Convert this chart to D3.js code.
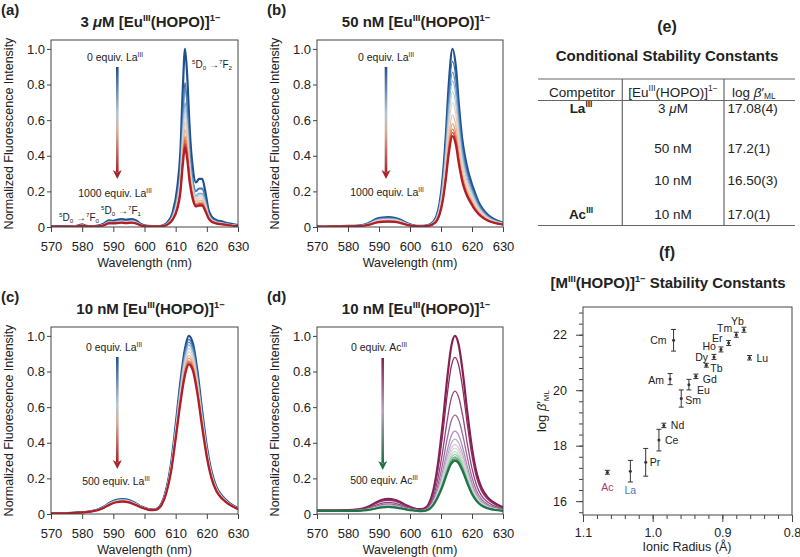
<!DOCTYPE html>
<html>
<head>
<meta charset="utf-8">
<script src="https://cdn.jsdelivr.net/npm/d3@7"></script>
<style>
body { margin: 0; background: #fff; }
text { font-family: "Liberation Sans", Arial, Helvetica, sans-serif; fill: #222; }
</style>
</head>
<body>
<script>
// ---- data ----
var wavelengthTicks = [570, 580, 590, 600, 610, 620, 630];
var intensityTicks = [0, 0.2, 0.4, 0.6, 0.8, 1.0];

// (a) 3 uM, La titration: first (0 equiv) and last (1000 equiv) spectra, peak height of each trace
var wlA = [570, 574, 577, 579, 580, 581, 583, 585, 587, 588.5, 590, 592.5, 594, 596, 597.5, 599, 601, 604, 606, 607.5, 609, 610.5, 611.5, 612.3, 613, 613.7, 614.5, 615.5, 616.5, 617.5, 618.5, 619.5, 620.5, 621.5, 623, 625, 627, 630];
var firstA = [0.003, 0.003, 0.004, 0.010, 0.015, 0.008, 0.005, 0.008, 0.02, 0.038, 0.035, 0.045, 0.040, 0.045, 0.035, 0.015, 0.006, 0.005, 0.01, 0.03, 0.08, 0.22, 0.42, 0.78, 1.0, 0.85, 0.55, 0.33, 0.25, 0.27, 0.27, 0.20, 0.10, 0.06, 0.04, 0.03, 0.02, 0.01];
var lastA = [0.002, 0.002, 0.002, 0.005, 0.008, 0.004, 0.003, 0.004, 0.01, 0.02, 0.02, 0.024, 0.022, 0.024, 0.018, 0.008, 0.003, 0.003, 0.005, 0.015, 0.04, 0.10, 0.19, 0.35, 0.45, 0.38, 0.25, 0.155, 0.115, 0.12, 0.12, 0.09, 0.05, 0.03, 0.02, 0.015, 0.01, 0.005];
var peaksA = [1.0, 0.81, 0.79, 0.70, 0.67, 0.63, 0.59, 0.55, 0.51, 0.49, 0.47, 0.45];

// (b) 50 nM, La titration
var wlB = [570, 575, 580, 583, 585, 587, 589, 591, 593, 595, 597, 599, 601, 603, 605, 606.5, 607.5, 608.5, 609.5, 610.5, 611.5, 612.5, 613.7, 614.8, 615.8, 616.8, 617.8, 618.8, 619.8, 620.8, 622, 623.5, 625, 627, 630];
var firstB = [0.003, 0.004, 0.006, 0.008, 0.012, 0.025, 0.045, 0.053, 0.055, 0.052, 0.04, 0.022, 0.01, 0.006, 0.008, 0.015, 0.03, 0.06, 0.13, 0.27, 0.50, 0.80, 1.0, 0.90, 0.68, 0.50, 0.39, 0.31, 0.25, 0.20, 0.145, 0.10, 0.07, 0.045, 0.025];
var lastB = [0.002, 0.003, 0.004, 0.005, 0.007, 0.013, 0.024, 0.029, 0.03, 0.029, 0.022, 0.012, 0.006, 0.004, 0.005, 0.009, 0.017, 0.032, 0.068, 0.14, 0.26, 0.41, 0.51, 0.46, 0.35, 0.26, 0.20, 0.16, 0.13, 0.10, 0.075, 0.052, 0.036, 0.024, 0.014];
var peaksB = [1.0, 0.93, 0.87, 0.82, 0.76, 0.70, 0.63, 0.58, 0.55, 0.53, 0.51];

// (c) 10 nM, La titration
var wlC = [570, 575, 580, 583, 585, 587, 589, 591, 593, 595, 597, 599, 601, 602.8, 604, 605.5, 607, 608.5, 610, 611.5, 613, 614.2, 615.5, 617, 618.5, 620, 621.5, 623, 625, 627, 630];
var firstC = [0.003, 0.005, 0.01, 0.016, 0.025, 0.042, 0.065, 0.08, 0.084, 0.078, 0.062, 0.042, 0.029, 0.025, 0.03, 0.06, 0.14, 0.28, 0.50, 0.74, 0.93, 1.0, 0.96, 0.80, 0.58, 0.38, 0.24, 0.155, 0.10, 0.065, 0.032];
var lastC = [0.003, 0.004, 0.009, 0.014, 0.021, 0.035, 0.054, 0.066, 0.07, 0.065, 0.052, 0.036, 0.025, 0.022, 0.026, 0.051, 0.118, 0.235, 0.42, 0.62, 0.78, 0.84, 0.806, 0.672, 0.487, 0.319, 0.2, 0.13, 0.084, 0.055, 0.027];
var peaksC = [1.0, 0.98, 0.965, 0.95, 0.93, 0.91, 0.89, 0.875, 0.86, 0.85, 0.84];

// (d) 10 nM, Ac titration
var wlD = [570, 575, 580, 583, 585, 587, 589, 591, 593, 595, 597, 599, 601, 603, 604.5, 606, 607.5, 609, 610.5, 612, 613.3, 614.5, 615.7, 617, 618.5, 620, 621.5, 623, 625, 627, 630];
var firstD = [0.02, 0.02, 0.022, 0.026, 0.032, 0.045, 0.065, 0.08, 0.085, 0.08, 0.066, 0.048, 0.034, 0.027, 0.03, 0.055, 0.13, 0.28, 0.50, 0.76, 0.94, 1.0, 0.95, 0.80, 0.57, 0.37, 0.23, 0.15, 0.095, 0.065, 0.038];
var lastD = [0.017, 0.017, 0.017, 0.018, 0.02, 0.024, 0.031, 0.037, 0.04, 0.037, 0.032, 0.025, 0.02, 0.016, 0.017, 0.025, 0.05, 0.095, 0.155, 0.23, 0.283, 0.30, 0.285, 0.24, 0.172, 0.112, 0.072, 0.048, 0.032, 0.024, 0.018];
var peaksD = [1.0, 0.88, 0.69, 0.555, 0.465, 0.42, 0.39, 0.37, 0.35, 0.335, 0.32, 0.31, 0.30];

// (e) table
var competitors = ["La", "", "", "Ac"];
var concentrations = ["3 ", "50 nM", "10 nM", "10 nM"];
var logBetaCond = ["17.08(4)", "17.2(1)", "16.50(3)", "17.0(1)"];

// (f) stability constants vs ionic radius
var elements = ["Ac", "La", "Pr", "Ce", "Nd", "Sm", "Eu", "Gd", "Tb", "Dy", "Ho", "Er", "Tm", "Yb", "Lu", "Am", "Cm"];
var ionicRadius = [1.065, 1.032, 1.01, 0.991, 0.984, 0.959, 0.948, 0.938, 0.923, 0.912, 0.902, 0.891, 0.88, 0.869, 0.861, 0.975, 0.97];
var logBeta = [17.04, 17.08, 17.4, 18.2, 18.73, 19.7, 20.2, 20.5, 20.9, 21.2, 21.47, 21.7, 22.0, 22.18, 21.17, 20.4, 21.8];
var logBetaErr = [0.07, 0.39, 0.5, 0.39, 0.08, 0.31, 0.19, 0.08, 0.07, 0.09, 0.09, 0.09, 0.09, 0.09, 0.08, 0.2, 0.39];
var radiusTicks = [1.1, 1.0, 0.9, 0.8];
var radiusMinor = [1.1, 1.08, 1.06, 1.04, 1.02, 1.0, 0.98, 0.96, 0.94, 0.92, 0.9, 0.88, 0.86, 0.84, 0.82, 0.8];
var betaTicks = [16, 18, 20, 22];
var betaMinor = [15.6, 16, 16.4, 16.8, 17.2, 17.6, 18, 18.4, 18.8, 19.2, 19.6, 20, 20.4, 20.8, 21.2, 21.6, 22, 22.4, 22.8];

// ---- drawing ----
var svg = d3.select("body").append("svg")
    .attr("width", 800)
    .attr("height", 557);
var defs = svg.append("defs");

// text with super/subscripts: parts = [[string, "sup"|"sub"|"it"|"" ], ...]
function rich(sel, parts, fs) {
    var cur = 0;
    parts.forEach(function(p) {
        var kind = p[1] || "";
        var off = kind.indexOf("sup") >= 0 ? -0.38 * fs : (kind.indexOf("sub") >= 0 ? 0.22 * fs : 0);
        var t = sel.append("tspan").attr("dy", (off - cur).toFixed(2)).text(p[0]);
        if (off !== 0) t.attr("font-size", (fs * 0.62).toFixed(1));
        if (kind.indexOf("it") >= 0) t.attr("font-style", "italic");
        cur = off;
    });
    return sel;
}

function label(x, y, parts, fs, anchor, weight) {
    var t = svg.append("text")
        .attr("x", x).attr("y", y)
        .attr("font-size", fs)
        .attr("text-anchor", anchor || "start")
        .attr("font-weight", weight || "normal");
    return rich(t, parts, fs);
}

// each trace is the first/last pair mixed so its peak matches the height
function traces(wl, first, last, peaks) {
    var p0 = peaks[0], p1 = peaks[peaks.length - 1];
    return peaks.map(function(p) {
        var t = (p - p1) / (p0 - p1);
        return wl.map(function(w, i) { return [w, last[i] + t * (first[i] - last[i])]; });
    });
}

var redBlue = d3.interpolateRgbBasis(["#22508f", "#3a74b2", "#7fadd4", "#d3dde6", "#f2cdb0", "#ea9664", "#d1523c", "#b01f29"]);
var purpleGreen = d3.interpolateRgbBasis(["#85204f", "#8d3064", "#9a68a2", "#b69cc7", "#dccbdf", "#d2e6d0", "#9fcda6", "#58a271", "#1f7547"]);

function drawSpectra(o) {
    var x = d3.scaleLinear().domain([570, 630]).range([o.x0, o.x1]);
    var y = d3.scaleLinear().domain([0, 1.05]).range([o.y1, o.y0]);

    defs.append("clipPath").attr("id", "clip" + o.id)
        .append("rect").attr("x", o.x0).attr("y", o.y0)
        .attr("width", o.x1 - o.x0).attr("height", o.y1 - o.y0);

    var data = traces(o.wl, o.first, o.last, o.peaks);
    var n = data.length;
    var line = d3.line()
        .x(function(d) { return x(d[0]); })
        .y(function(d) { return y(d[1]); })
        .curve(d3.curveMonotoneX);

    svg.append("g").attr("clip-path", "url(#clip" + o.id + ")")
        .selectAll("path")
        .data(data)
        .join("path")
        .attr("d", line)
        .attr("fill", "none")
        .attr("stroke", function(d, i) { return o.color(i / (n - 1)); })
        .attr("stroke-width", function(d, i) { return (i === 0 || i === n - 1) ? 2.2 : 1.3; })
        .attr("stroke-linejoin", "round");

    svg.append("rect")
        .attr("x", o.x0).attr("y", o.y0)
        .attr("width", o.x1 - o.x0).attr("height", o.y1 - o.y0)
        .attr("fill", "none").attr("stroke", "#444").attr("stroke-width", 1);

    var xa = svg.append("g")
        .attr("transform", "translate(0," + o.y1 + ")")
        .call(d3.axisBottom(x).tickValues(wavelengthTicks).tickSize(5).tickSizeOuter(0).tickPadding(10));
    var ya = svg.append("g")
        .attr("transform", "translate(" + o.x0 + ",0)")
        .call(d3.axisLeft(y).tickValues(intensityTicks).tickSize(4).tickSizeOuter(0).tickPadding(2)
            .tickFormat(function(d) { return d === 0 ? "0" : d3.format(".1f")(d); }));
    [xa, ya].forEach(function(a) {
        a.select(".domain").remove();
        a.attr("font-family", null).attr("font-size", null);
        a.selectAll("line").attr("stroke", "#444");
        a.selectAll("text").attr("font-size", 13).attr("fill", "#222");
    });

    label((o.x0 + o.x1) / 2, o.y1 + 39.5, [["Wavelength (nm)", ""]], 12.5, "middle");
    svg.append("text")
        .attr("transform", "translate(" + (o.x0 - 38.5) + "," + ((o.y0 + o.y1) / 2) + ") rotate(-90)")
        .attr("text-anchor", "middle").attr("font-size", 12.5)
        .text("Normalized Fluorescence Intensity");

    label(o.x0 - 50, o.y0 - 25.5, [[o.tag, ""]], 15, "start", "bold");
    label((o.x0 + o.x1) / 2 + 6, o.y0 - 13, o.title, 15, "middle", "bold");

    // gradient arrow
    var gid = "grad" + o.id;
    var grad = defs.append("linearGradient").attr("id", gid)
        .attr("x1", 0).attr("y1", 0).attr("x2", 0).attr("y2", 1);
    o.arrowStops.forEach(function(s) {
        grad.append("stop").attr("offset", s[0]).attr("stop-color", s[1]);
    });
    var ax = o.arrow[0], top = o.arrow[1], tip = o.arrow[2];
    svg.append("rect")
        .attr("x", ax - 1.3).attr("y", top)
        .attr("width", 2.6).attr("height", tip - 7 - top)
        .attr("fill", "url(#" + gid + ")");
    svg.append("path")
        .attr("d", "M" + (ax - 4.5) + "," + (tip - 9) + "L" + ax + "," + tip + "L" + (ax + 4.5) + "," + (tip - 9) + "L" + ax + "," + (tip - 6.5) + "Z")
        .attr("fill", o.arrowStops[o.arrowStops.length - 1][1]);
    label(o.startLabel[0], o.startLabel[1], o.startLabel[2], 10.5, "middle");
    label(o.endLabel[0], o.endLabel[1], o.endLabel[2], 10.5, "middle");
    return { x: x, y: y };
}

var rbStops = [[0, "#22508f"], [0.45, "#b9c8d6"], [0.62, "#d3b09c"], [1, "#a8232a"]];
var pgStops = [[0, "#85204f"], [0.5, "#b6a3b8"], [1, "#1f7048"]];

drawSpectra({
    id: "a", x0: 51, x1: 238, y0: 40, y1: 227, tag: "(a)",
    title: [["3 ", ""], ["μ", "it"], ["M [Eu", ""], ["III", "sup"], ["(HOPO)]", ""], ["1−", "sup"]],
    wl: wlA, first: firstA, last: lastA, peaks: peaksA, color: redBlue, arrowStops: rbStops,
    arrow: [117.3, 67, 179],
    startLabel: [115, 61, [["0 equiv. La", ""], ["III", "sup"]]],
    endLabel: [115, 196.5, [["1000 equiv. La", ""], ["III", "sup"]]]
});
drawSpectra({
    id: "b", x0: 317, x1: 503, y0: 40, y1: 227, tag: "(b)",
    title: [["50 nM [Eu", ""], ["III", "sup"], ["(HOPO)]", ""], ["1−", "sup"]],
    wl: wlB, first: firstB, last: lastB, peaks: peaksB, color: redBlue, arrowStops: rbStops,
    arrow: [386, 67, 179],
    startLabel: [386, 61, [["0 equiv. La", ""], ["III", "sup"]]],
    endLabel: [387, 196, [["1000 equiv. La", ""], ["III", "sup"]]]
});
drawSpectra({
    id: "c", x0: 51, x1: 238, y0: 327, y1: 514, tag: "(c)",
    title: [["10 nM [Eu", ""], ["III", "sup"], ["(HOPO)]", ""], ["1−", "sup"]],
    wl: wlC, first: firstC, last: lastC, peaks: peaksC, color: redBlue, arrowStops: rbStops,
    arrow: [117.3, 357, 469],
    startLabel: [114, 350.5, [["0 equiv. La", ""], ["III", "sup"]]],
    endLabel: [116, 484.5, [["500 equiv. La", ""], ["III", "sup"]]]
});
drawSpectra({
    id: "d", x0: 317, x1: 503, y0: 327, y1: 514, tag: "(d)",
    title: [["10 nM [Eu", ""], ["III", "sup"], ["(HOPO)]", ""], ["1−", "sup"]],
    wl: wlD, first: firstD, last: lastD, peaks: peaksD, color: purpleGreen, arrowStops: pgStops,
    arrow: [382.7, 358, 470],
    startLabel: [379, 350.5, [["0 equiv. Ac", ""], ["III", "sup"]]],
    endLabel: [384, 484, [["500 equiv. Ac", ""], ["III", "sup"]]]
});

// transition labels in (a)
label(192, 68, [["5", "sup"], ["D", ""], ["0", "sub"], [" →", ""], ["7", "sup"], ["F", ""], ["2", "sub"]], 10, "start");
label(101, 213.5, [["5", "sup"], ["D", ""], ["0", "sub"], [" →", ""], ["7", "sup"], ["F", ""], ["1", "sub"]], 10, "start");
label(59, 220.5, [["5", "sup"], ["D", ""], ["0", "sub"], [" →", ""], ["7", "sup"], ["F", ""], ["0", "sub"]], 10, "start");

// ---- (e) table ----
label(667, 32, [["(e)", ""]], 16, "middle", "bold");
label(667, 60.5, [["Conditional Stability Constants", ""]], 15, "middle", "bold");

var rule = svg.append("g").attr("stroke", "#666").attr("stroke-width", 1.2);
[79, 100.5, 225.5].forEach(function(yy) {
    rule.append("line").attr("x1", 538).attr("x2", 795).attr("y1", yy).attr("y2", yy);
});
[622.3, 724].forEach(function(xx) {
    rule.append("line").attr("x1", xx).attr("x2", xx).attr("y1", 79).attr("y2", 225.5);
});

label(582, 96.5, [["Competitor", ""]], 13.5, "middle");
label(673, 96.5, [["[Eu", ""], ["III", "sup"], ["(HOPO)]", ""], ["1−", "sup"]], 13.5, "middle");
label(732, 96.5, [["log ", ""], ["β", "it"], ["′", ""], ["ML", "sub"]], 13.5, "start");

var rowY = [112.5, 152.5, 185, 218.5];
competitors.forEach(function(c, i) {
    if (c) label(581, rowY[i], [[c, ""], ["III", "sup"]], 13.5, "middle", "bold");
});
concentrations.forEach(function(c, i) {
    if (i === 0) label(673, rowY[i], [[c, ""], ["μ", "it"], ["M", ""]], 13.5, "middle");
    else label(673, rowY[i], [[c, ""]], 13.5, "middle");
});
logBetaCond.forEach(function(v, i) {
    label(727.5, rowY[i], [[v, ""]], 13.5, "start");
});

// ---- (f) scatter ----
label(667, 258, [["(f)", ""]], 16, "middle", "bold");
label(668, 288, [["[M", ""], ["III", "sup"], ["(HOPO)]", ""], ["1−", "sup"], [" Stability Constants", ""]], 15, "middle", "bold");

var xf = d3.scaleLinear().domain([1.1, 0.8]).range([583, 792]);
var yf = d3.scaleLinear().domain([15.5, 23]).range([515, 307]);

svg.append("rect")
    .attr("x", 583).attr("y", 307).attr("width", 792 - 583).attr("height", 515 - 307)
    .attr("fill", "none").attr("stroke", "#444").attr("stroke-width", 1);

var fAxes = [
    svg.append("g").attr("transform", "translate(0,515)")
        .call(d3.axisBottom(xf).tickValues(radiusMinor).tickSize(4).tickSizeOuter(0).tickFormat("")),
    svg.append("g").attr("transform", "translate(0,515)")
        .call(d3.axisBottom(xf).tickValues(radiusTicks).tickSize(7).tickSizeOuter(0).tickPadding(6).tickFormat(d3.format(".1f"))),
    svg.append("g").attr("transform", "translate(583,0)")
        .call(d3.axisLeft(yf).tickValues(betaMinor).tickSize(4).tickSizeOuter(0).tickFormat("")),
    svg.append("g").attr("transform", "translate(583,0)")
        .call(d3.axisLeft(yf).tickValues(betaTicks).tickSize(7).tickSizeOuter(0).tickPadding(9))
];
fAxes.forEach(function(a) {
    a.select(".domain").remove();
    a.attr("font-family", null).attr("font-size", null);
    a.selectAll("line").attr("stroke", "#444");
    a.selectAll("text").attr("font-size", 12.5).attr("fill", "#222");
});

label(687, 551, [["Ionic Radius (Å)", ""]], 12.5, "middle");
rich(svg.append("text")
    .attr("transform", "translate(546,411) rotate(-90)")
    .attr("text-anchor", "middle").attr("font-size", 13),
    [["log ", ""], ["β", "it"], ["′", ""], ["ML", "sub"]], 13);

var pts = svg.append("g").selectAll("g")
    .data(elements.map(function(e, i) {
        return { el: e, r: ionicRadius[i], b: logBeta[i], err: logBetaErr[i] };
    }))
    .join("g")
    .attr("transform", function(d) { return "translate(" + xf(d.r) + "," + yf(d.b) + ")"; });

pts.append("path")
    .attr("d", function(d) {
        var hi = yf(d.b + d.err) - yf(d.b), lo = yf(d.b - d.err) - yf(d.b);
        return "M0," + hi + "V" + lo + "M-2.5," + hi + "H2.5M-2.5," + lo + "H2.5";
    })
    .attr("stroke", "#333").attr("stroke-width", 1).attr("fill", "none");
pts.append("circle").attr("r", 1.5).attr("fill", "#333");

// label offsets: [dx, dy (to text middle), anchor]
var elLabelPos = {
    Ac: [0, 15, "middle"], La: [0, 19, "middle"], Pr: [4, 0, "start"], Ce: [6, 0, "start"],
    Nd: [7, 0, "start"], Sm: [4, 1, "start"], Eu: [8, 5, "start"], Gd: [7, 3, "start"],
    Tb: [4, 3, "start"], Dy: [-6, 0, "end"], Ho: [-5, -3, "end"], Er: [-6, -5, "end"],
    Tm: [-4, -7, "end"], Yb: [0, -9, "end"], Lu: [7, 0, "start"], Am: [-6, 1, "end"], Cm: [-7, 0, "end"]
};
var elColor = { Ac: "#a8386c", La: "#4a7ab8" };
pts.append("text")
    .attr("x", function(d) { return elLabelPos[d.el][0]; })
    .attr("y", function(d) { return elLabelPos[d.el][1] + 4; })
    .attr("text-anchor", function(d) { return elLabelPos[d.el][2]; })
    .attr("font-size", 10.5)
    .style("fill", function(d) { return elColor[d.el] || "#222"; })
    .text(function(d) { return d.el; });
</script>
</body>
</html>
